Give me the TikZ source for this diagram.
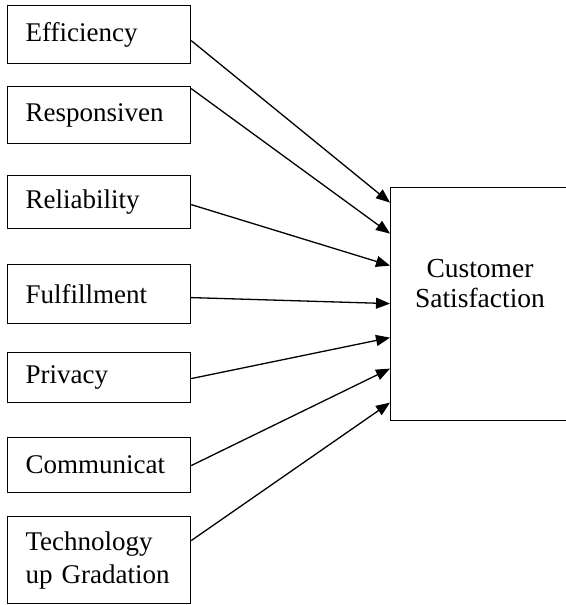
\documentclass[tikz,border=0pt]{standalone}
\usepackage{fontspec}
\setmainfont{Liberation Serif}[Ligatures=NoCommon]
\usetikzlibrary{arrows.meta}

\begin{document}
\begin{tikzpicture}[x=1pt,y=-1pt,
  factor/.style={draw, line width=1.2pt, anchor=north west, text width=147pt,
    inner xsep=18pt, inner ysep=0pt, align=left,
    font=\fontsize{27}{33}\selectfont},
  outcome/.style={draw, line width=1.2pt, anchor=north west, minimum width=180pt,
    inner sep=0pt},
  outlabel/.style={align=center, inner sep=0pt, font=\fontsize{27.5}{30}\selectfont},
  link/.style={line width=1.3pt, -{Triangle[length=14pt,width=11pt]}}]

\useasboundingbox (0,0) rectangle (565,605);

% factor boxes on the left
\node[factor, minimum height=58pt] (eff)  at (7,5)   {Efficiency};
\node[factor, minimum height=57pt] (resp) at (7,86)  {Responsiven};
\node[factor, minimum height=53pt] (rel)  at (7,175) {Reliability};
\node[factor, minimum height=59pt] (ful)  at (7,264) {Fulfillment};
\node[factor, minimum height=50pt] (priv) at (7,352) {Privacy};
\node[factor, minimum height=55pt] (comm) at (7,437) {Communicat};
\node[factor, minimum height=87pt] (tech) at (7,516) {Technology\\up Gradation};

% outcome box on the right
\node[outcome, minimum height=233pt] (cs) at (390,187) {};
\node[outlabel] (cstext) at (480,284) {Customer\\Satisfaction};

% links
\draw[link] ([yshift=-6pt]eff.east)    -- ([yshift=101.5pt]cs.west);
\draw[link] ([yshift=26.5pt]resp.east) -- ([yshift=70.5pt]cs.west);
\draw[link] ([yshift=-2.5pt]rel.east)  -- ([yshift=38.5pt]cs.west);
\draw[link] ([yshift=-3.5pt]ful.east)  -- ([yshift=0.5pt]cs.west);
\draw[link] ([yshift=-1pt]priv.east)   -- ([yshift=-33.5pt]cs.west);
\draw[link] ([yshift=-0.5pt]comm.east) -- ([yshift=-64.5pt]cs.west);
\draw[link] ([yshift=19.5pt]tech.east) -- ([yshift=-98.5pt]cs.west);
\end{tikzpicture}
\end{document}
